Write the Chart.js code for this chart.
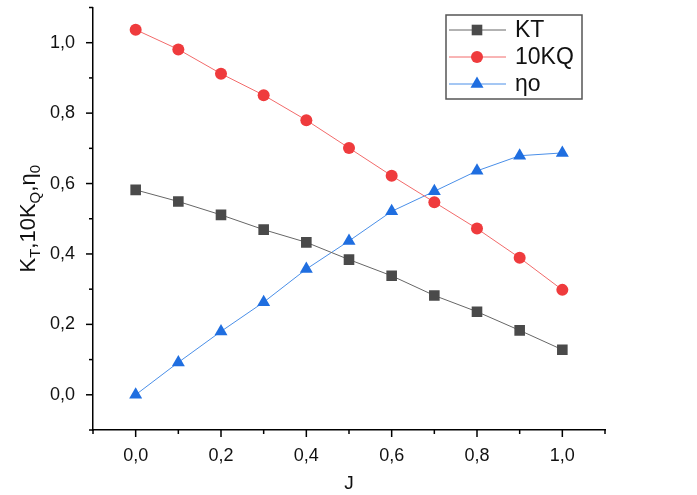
<!DOCTYPE html>
<html>
<head>
<meta charset="utf-8">
<title>KT, 10KQ, ηo</title>
<style>
  html, body { margin: 0; padding: 0; background: #fff; }
  #wrap { width: 697px; height: 495px; }
</style>
</head>
<body>
<div id="wrap"><canvas id="chart" width="697" height="495"></canvas></div>
<script src="https://cdn.jsdelivr.net/npm/chart.js@4"></script>
<script>
// advance ratio and coefficients
const J    = [0.0, 0.1, 0.2, 0.3, 0.4, 0.5, 0.6, 0.7, 0.8, 0.9, 1.0];
const KT   = [0.582, 0.549, 0.511, 0.469, 0.433, 0.384, 0.338, 0.282, 0.236, 0.183, 0.128];
const KQ10 = [1.037, 0.981, 0.912, 0.851, 0.780, 0.701, 0.622, 0.547, 0.472, 0.389, 0.298];
const ETA0 = [0.000, 0.092, 0.180, 0.263, 0.357, 0.437, 0.521, 0.578, 0.636, 0.679, 0.687];
const seriesNames = ['KT', '10KQ', 'ηo'];

const FONT = "'Liberation Sans', Arial, Helvetica, sans-serif";

function pts(ys) { return J.map((x, i) => ({ x: x, y: ys[i] })); }

function fmt(v) {
  const n = Math.round(v * 10);
  if (Math.abs(n) % 2 !== 0) return '';
  return (n / 10).toFixed(1).replace('.', ',');
}

// major/minor tick marks on the outside of both axes
const tickMarks = {
  id: 'tickMarks',
  afterDraw(chart) {
    const ctx = chart.ctx;
    const xs = chart.scales.x, ys = chart.scales.y;
    const a = chart.chartArea;
    ctx.save();
    ctx.strokeStyle = '#000';
    ctx.lineWidth = 1.5;
    for (let i = -1; i <= 11; i++) {
      const len = i % 2 === 0 ? 7 : 4;
      const px = xs.getPixelForValue(i / 10);
      ctx.beginPath();
      ctx.moveTo(px, a.bottom);
      ctx.lineTo(px, a.bottom + len);
      ctx.stroke();
      const py = ys.getPixelForValue(i / 10);
      ctx.beginPath();
      ctx.moveTo(a.left, py);
      ctx.lineTo(a.left - len, py);
      ctx.stroke();
    }
    ctx.restore();
  }
};

// y title with subscripts
const yTitle = {
  id: 'yTitle',
  afterDraw(chart) {
    const ctx = chart.ctx;
    const a = chart.chartArea;
    const parts = [['K', 0], ['T', 1], [',10K', 0], ['Q', 1], [',η', 0], ['0', 1]];
    const big = '22px ' + FONT, small = '15px ' + FONT;
    ctx.save();
    let total = 0;
    parts.forEach(p => { ctx.font = p[1] ? small : big; total += ctx.measureText(p[0]).width; });
    ctx.translate(35, (a.top + a.bottom) / 2);
    ctx.rotate(-Math.PI / 2);
    ctx.fillStyle = '#111';
    ctx.textBaseline = 'alphabetic';
    let x = -total / 2;
    parts.forEach(p => {
      ctx.font = p[1] ? small : big;
      ctx.fillText(p[0], x, p[1] ? 5 : 0);
      x += ctx.measureText(p[0]).width;
    });
    ctx.restore();
  }
};

// boxed legend with line + marker samples
const boxLegend = {
  id: 'boxLegend',
  afterDraw(chart) {
    const ctx = chart.ctx;
    const left = 446, top = 15, w = 136, h = 84;
    ctx.save();
    ctx.strokeStyle = '#555';
    ctx.lineWidth = 1.5;
    ctx.strokeRect(left, top, w, h);
    chart.data.datasets.forEach((ds, i) => {
      const y = top + 15 + i * 27;
      ctx.strokeStyle = ds.borderColor;
      ctx.lineWidth = 1;
      ctx.beginPath();
      ctx.moveTo(left + 3, y);
      ctx.lineTo(left + 60, y);
      ctx.stroke();
      ctx.fillStyle = ds.pointBackgroundColor;
      ctx.strokeStyle = ds.pointBackgroundColor;
      Chart.helpers.drawPoint(ctx, {
        pointStyle: ds.pointStyle, rotation: 0,
        radius: ds.pointRadius, borderWidth: 0
      }, left + 31, y);
      ctx.fillStyle = '#111';
      ctx.font = '23px ' + FONT;
      ctx.textBaseline = 'middle';
      ctx.fillText(ds.label, left + 69, y + 1);
    });
    ctx.restore();
  }
};

const ctx = document.getElementById('chart').getContext('2d');
new Chart(ctx, {
  type: 'line',
  data: {
    datasets: [
      {
        label: seriesNames[0], data: pts(KT),
        borderColor: '#666', borderWidth: 1,
        pointStyle: 'rect', pointRadius: 7.5,
        pointBackgroundColor: '#4a4a4a', pointBorderWidth: 0
      },
      {
        label: seriesNames[1], data: pts(KQ10),
        borderColor: '#f26a6a', borderWidth: 1,
        pointStyle: 'circle', pointRadius: 6,
        pointBackgroundColor: '#ef3b3d', pointBorderWidth: 0
      },
      {
        label: seriesNames[2], data: pts(ETA0),
        borderColor: '#4a8fe8', borderWidth: 1,
        pointStyle: 'triangle', pointRadius: 7.5,
        pointBackgroundColor: '#1f6ee0', pointBorderWidth: 0
      }
    ]
  },
  options: {
    responsive: false,
    animation: false,
    layout: { padding: { top: 7, right: 92, bottom: 0, left: 0 } },
    plugins: {
      legend: { display: false },
      tooltip: { enabled: false }
    },
    scales: {
      x: {
        type: 'linear',
        min: -0.1, max: 1.1,
        afterFit(s) { s.height = 65; s.paddingLeft = 0; s.paddingRight = 0; },
        grid: { display: true, drawOnChartArea: false, drawTicks: false },
        border: { display: true, color: '#000', width: 1.5 },
        ticks: {
          stepSize: 0.1, padding: 15, maxRotation: 0, autoSkip: false,
          color: '#111', font: { family: FONT, size: 18 },
          callback: v => fmt(v)
        },
        title: {
          display: true, text: 'J', color: '#111',
          font: { family: FONT, size: 19 }, padding: { top: 4, bottom: 0 }
        }
      },
      y: {
        min: -0.1, max: 1.1,
        afterFit(s) { s.width = 93; s.paddingTop = 0; s.paddingBottom = 0; },
        grid: { display: true, drawOnChartArea: false, drawTicks: false },
        border: { display: true, color: '#000', width: 1.5 },
        ticks: {
          stepSize: 0.1, padding: 18, autoSkip: false,
          color: '#111', font: { family: FONT, size: 18 },
          callback: v => fmt(v)
        }
      }
    }
  },
  plugins: [tickMarks, yTitle, boxLegend]
});
</script>
</body>
</html>
